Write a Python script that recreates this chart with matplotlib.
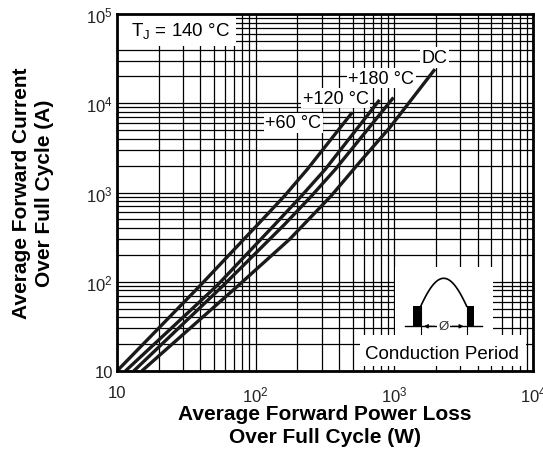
import numpy as np
import matplotlib
matplotlib.use('Agg')
import matplotlib.pyplot as plt
from matplotlib.patches import Rectangle
from matplotlib.ticker import FixedLocator, FixedFormatter, LogLocator, NullFormatter

plt.rcParams['font.family'] = ['Liberation Sans', 'DejaVu Sans']
plt.rcParams['mathtext.fontset'] = 'custom'
plt.rcParams['mathtext.rm'] = 'Liberation Sans'
plt.rcParams['mathtext.it'] = 'Liberation Sans:italic'
plt.rcParams['mathtext.bf'] = 'Liberation Sans:bold'

# curves: power loss (W) vs. forward current (A)
p60_x = [10, 39.6, 104, 161.5, 236, 497]
p60_y = [10, 90, 441, 916, 1824, 7890]
p120_x = [11.5, 52.4, 138, 214, 318, 782]
p120_y = [10, 90, 441, 916, 1824, 10900]
p180_x = [13.2, 58, 162, 253, 376, 986]
p180_y = [10, 90, 441, 916, 1824, 11600]
dc_x = [15.1, 74.5, 176, 350, 560, 929, 1963]
dc_y = [10, 90, 300, 916, 2170, 5360, 24100]

curve_labels = ['+60 °C', '+120 °C', '+180 °C', 'DC']
label_pos = [(0.424, 0.695), (0.526, 0.764), (0.635, 0.820), (0.764, 0.878)]

x_ticks = [10, 100, 1000, 10000]
x_ticklabels = ['10', '10$^2$', '10$^3$', '10$^4$']
y_ticks = [10, 100, 1000, 10000, 100000]
y_ticklabels = ['10', '10$^2$', '10$^3$', '10$^4$', '10$^5$']

W, H = 543, 452
fig = plt.figure(figsize=(W / 100, H / 100), dpi=100)

# axes box in reference pixels
L, R, T, B = 117, 533, 15, 372
ax = fig.add_axes([L / W, 1 - B / H, (R - L) / W, (B - T) / H])
ax.set_xscale('log')
ax.set_yscale('log')
ax.set_xlim(10, 1e4)
ax.set_ylim(10, 1e5)

ax.xaxis.set_major_locator(FixedLocator(x_ticks))
ax.xaxis.set_major_formatter(FixedFormatter(x_ticklabels))
ax.yaxis.set_major_locator(FixedLocator(y_ticks))
ax.yaxis.set_major_formatter(FixedFormatter(y_ticklabels))
ax.xaxis.set_minor_locator(LogLocator(base=10, subs=np.arange(2, 10)))
ax.yaxis.set_minor_locator(LogLocator(base=10, subs=np.arange(2, 10)))
ax.xaxis.set_minor_formatter(NullFormatter())
ax.yaxis.set_minor_formatter(NullFormatter())

ax.grid(True, which='both', color='black', linewidth=0.9)
ax.set_axisbelow(True)
ax.tick_params(which='both', length=0, labelsize=12, colors='#222222')
ax.tick_params(axis='x', pad=10)
ax.tick_params(axis='y', pad=3)
for s in ax.spines.values():
    s.set_linewidth(2.0)
    s.set_zorder(6)

for xs, ys in [(p60_x, p60_y), (p120_x, p120_y), (p180_x, p180_y), (dc_x, dc_y)]:
    ax.plot(xs, ys, color='#1a1a1a', linewidth=2.4, solid_capstyle='butt',
            solid_joinstyle='round', zorder=4)

for lab, (tx, ty) in zip(curve_labels, label_pos):
    ax.text(tx, ty, lab, transform=ax.transAxes, ha='center', va='center', fontsize=13,
            zorder=5, bbox=dict(facecolor='white', edgecolor='none', pad=1.2))

# T_J box at top left
ax.add_patch(Rectangle((0, 0.91), 0.285, 0.09, transform=ax.transAxes,
                       facecolor='white', edgecolor='none', zorder=3))
ax.text(0.034, 0.955, 'T$_\\mathrm{J}$ = 140 °C', transform=ax.transAxes, ha='left',
        va='center', fontsize=13.5, zorder=5)

# white area for the conduction period sketch
ax.add_patch(Rectangle((0.668, 0.095), 0.236, 0.195, transform=ax.transAxes,
                       facecolor='white', edgecolor='none', zorder=3))
ax.add_patch(Rectangle((0.583, 0.015), 0.40, 0.085, transform=ax.transAxes,
                       facecolor='white', edgecolor='none', zorder=3))
ax.text(0.78, 0.048, 'Conduction Period', transform=ax.transAxes, ha='center',
        va='center', fontsize=13.5, zorder=5)

# sketch drawn in reference pixel units
ix0, ix1, iy0, iy1 = 400, 490, 272, 340
ins = fig.add_axes([ix0 / W, 1 - iy1 / H, (ix1 - ix0) / W, (iy1 - iy0) / H])
ins.set_xlim(ix0, ix1)
ins.set_ylim(iy1, iy0)
ins.axis('off')
base = 327.3
ins.plot([405, 481.7], [base, base], color='black', lw=1.0)
ins.add_patch(Rectangle((413.3, 307.3), 7.4, base - 307.3, facecolor='black', edgecolor='none'))
ins.add_patch(Rectangle((466.7, 307.3), 7.3, base - 307.3, facecolor='black', edgecolor='none'))
th0 = np.arcsin(20 / 48)
th = np.linspace(th0, np.pi - th0, 60)
ins.plot(420.7 + (th - th0) / (np.pi - 2 * th0) * 46, base - 48 * np.sin(th), color='black', lw=1.2)
for vx in [420.7, 466.7]:
    ins.plot([vx, vx], [307.3, 335], color='black', lw=0.8)
ins.text(443.5, base, 'Ø', ha='center', va='center', fontsize=9.5, color='#333333',
         bbox=dict(facecolor='white', edgecolor='none', pad=1.0))
ins.annotate('', xy=(421, base), xytext=(437.5, base),
             arrowprops=dict(arrowstyle='-|>', color='black', lw=0.8, mutation_scale=6))
ins.annotate('', xy=(466.4, base), xytext=(449.5, base),
             arrowprops=dict(arrowstyle='-|>', color='black', lw=0.8, mutation_scale=6))

ax.set_xlabel('Average Forward Power Loss\nOver Full Cycle (W)', fontsize=15,
              fontweight='bold', labelpad=-0.5, linespacing=1.28)
ax.set_ylabel('Average Forward Current\nOver Full Cycle (A)', fontsize=15,
              fontweight='bold', labelpad=23, linespacing=1.28)

fig.savefig('out.png', dpi=100)
